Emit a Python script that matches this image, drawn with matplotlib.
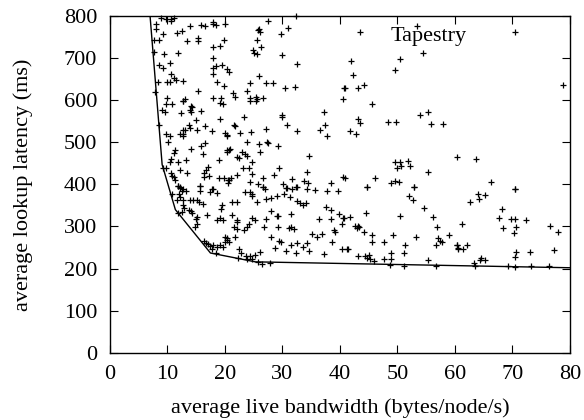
import matplotlib
matplotlib.use("Agg")
import matplotlib.pyplot as plt

# (bandwidth bytes/node/s, latency ms)
bw = [
    8.9, 9.8, 10.6, 11.2, 10.7, 8.0, 8.1, 14.0, 15.8, 16.6, 17.9, 18.5, 20.0, 18.0, 9.3, 11.6, 12.5,
    7.7, 8.6, 13.5, 15.4, 15.4, 19.8, 17.9, 19.1, 7.7, 9.5, 11.8, 18.0, 8.5, 9.2, 10.4, 17.9, 18.5,
    19.5, 20.4, 20.8, 10.7, 11.2, 17.9, 8.3, 10.0, 10.5, 11.5, 12.7, 18.7, 19.8, 7.9, 15.4, 10.0,
    13.1, 12.7, 17.9, 19.3,
    27.5, 32.3, 25.9, 26.1, 25.8, 30.9, 29.8, 25.6, 26.3, 24.9, 25.0, 25.6, 29.9, 32.5, 26.0, 24.3,
    27.2, 28.4, 30.5, 32.2, 23.9, 21.5, 21.7, 24.3, 25.4, 25.6, 26.6, 40.8, 40.6,
    43.5, 53.4, 50.5, 54.4, 42.0, 49.6, 42.3, 40.9, 43.2, 44.2, 70.4, 78.8,
    9.8, 10.9, 12.7, 14.1, 14.0, 14.3, 9.0, 9.6, 12.3, 14.1, 15.8, 19.2, 19.6, 19.1, 8.5, 14.9,
    13.7, 13.9, 12.8, 13.1, 12.2, 12.8, 12.7, 15.2, 16.5, 17.7, 20.0, 20.4, 9.8, 10.4, 10.2, 15.8,
    16.5, 14.2, 11.4, 11.1, 16.2, 20.7, 20.4, 10.4, 10.6, 11.8, 13.2, 18.9, 9.8, 9.3, 17.0, 16.8,
    10.7, 10.9, 11.2, 11.4, 12.2, 13.4, 16.3, 16.4, 17.3, 19.0, 19.8, 20.6, 11.9, 12.2, 12.7, 15.7,
    17.8,
    24.3, 25.4, 23.4, 29.9, 29.9, 37.3, 21.6, 21.7, 30.8, 37.4, 36.5, 37.8, 20.3, 22.6, 24.6, 27.1,
    32.5, 23.9, 25.9, 27.3, 27.5, 29.2, 20.3, 20.9, 22.9, 23.5, 26.1, 22.2, 22.5, 23.8, 24.7, 34.6,
    23.1, 24.2, 29.5, 24.7, 22.1, 21.0, 20.7, 20.6, 26.7, 28.6, 31.7, 34.3, 33.8, 34.4, 24.4, 25.8,
    26.7, 27.0, 30.1, 30.7, 32.4, 38.5, 40.6,
    45.5, 43.2, 43.5, 41.7, 42.8, 48.4, 49.7, 53.9, 55.4, 55.8, 57.9, 49.6, 50.4, 50.0, 50.7, 51.8,
    52.2, 60.3, 55.3, 40.9, 46.1, 44.7, 48.8, 49.5, 50.2, 52.9, 63.6, 66.2, 70.4,
    11.8, 12.2, 12.6, 13.3, 15.7, 15.6, 17.5, 17.9, 18.6, 10.8, 12.0, 12.2, 11.6, 12.8, 14.0, 14.5,
    15.1, 15.5, 16.2, 12.7, 12.9, 19.5, 19.4, 13.7, 14.2, 14.3, 11.9, 12.5, 16.9, 15.1, 14.9, 19.2,
    19.7, 18.7, 15.1, 14.8, 20.4, 20.1, 16.3, 16.8, 17.1, 17.5, 17.9, 18.7, 19.2, 19.7, 17.7, 18.5,
    23.5, 24.3, 24.7, 24.7, 26.7, 30.8, 31.7, 32.5, 34.2, 35.6, 37.7, 39.6, 28.1, 29.1, 30.2, 31.3,
    27.2, 25.6, 21.3, 22.1, 32.5, 33.1, 34.1, 33.6, 37.6, 38.5, 28.0, 29.1, 29.3, 31.5, 21.3, 22.1,
    22.1, 24.7, 25.2, 27.1, 36.3, 38.5, 39.9, 40.6, 23.9, 23.4, 21.6, 22.1, 21.8, 24.2, 26.8, 29.3,
    31.1, 31.5, 32.0, 20.1, 20.4, 20.7, 28.1, 29.5, 29.8, 35.1, 36.0, 36.9, 38.9, 39.1, 38.6, 31.5,
    32.5, 33.6, 34.3, 28.8, 30.7, 32.3, 34.6, 37.2, 40.3, 22.4, 22.8, 22.3, 23.6, 23.9, 24.4, 24.7,
    25.3, 26.1, 25.7, 26.4, 27.9,
    44.7, 52.9, 52.0, 52.7, 54.7, 50.4, 56.2, 56.8, 40.8, 41.8, 40.4, 42.7, 43.1, 43.3, 43.0, 44.6,
    44.2, 45.6, 45.6, 49.2, 47.7, 53.3, 57.0, 57.4, 57.8, 56.7, 58.9, 60.3, 60.5, 51.3, 51.1, 41.2,
    41.4, 43.1, 44.4, 45.1, 45.2, 44.8, 46.0, 47.7, 48.9, 48.8, 48.7, 51.1, 55.4, 56.7,
    70.4, 64.0, 64.2, 65.3, 62.6, 68.2, 67.6, 69.8, 70.4, 72.4, 61.3, 76.6, 78.0, 68.4, 70.6, 70.3,
    60.4, 60.5, 61.4, 62.1, 77.3, 64.6, 64.3, 65.2, 70.7, 70.5, 73.0, 63.3, 63.5, 69.2, 70.5, 73.3,
    76.4,
]
latency = [
    796, 793, 793, 794, 788, 780, 769, 775, 778, 777, 782, 778, 780, 786, 756, 759, 764,
    743, 743, 740, 748, 740, 743, 727, 728, 715, 709, 713, 699, 683, 677, 688, 677, 681,
    683, 675, 667, 661, 652, 661, 644, 644, 642, 648, 645, 642, 634, 620, 622, 606,
    603, 598, 604, 604,
    788, 799, 770, 762, 766, 772, 758, 743, 727, 719, 713, 709, 707, 685, 658, 640,
    640, 641, 628, 632, 622, 616, 608, 604, 608, 603, 606, 628, 603,
    761, 777, 698, 713, 693, 671, 660, 629, 628, 636, 761, 637,
    591, 590, 598, 587, 577, 584, 576, 573, 569, 571, 574, 593, 590, 555, 542, 553,
    541, 534, 530, 528, 519, 515, 520, 530, 539, 527, 522, 517, 520, 514, 500, 492,
    498, 484, 481, 474, 473, 482, 478, 452, 460, 454, 458, 457, 439, 438, 441, 435,
    428, 420, 417, 411, 433, 428, 428, 417, 420, 414, 414, 411, 397, 394, 389, 395,
    390,
    599, 599, 560, 565, 561, 572, 541, 539, 541, 541, 530, 514, 515, 523, 525, 531,
    527, 501, 496, 501, 498, 490, 481, 484, 476, 473, 476, 466, 462, 468, 454, 468,
    439, 438, 438, 425, 422, 416, 411, 403, 416, 422, 413, 430, 409, 403, 405, 401,
    394, 390, 401, 392, 394, 403, 417,
    591, 555, 546, 527, 520, 547, 547, 565, 572, 544, 544, 452, 452, 439, 444, 455,
    443, 465, 430, 416, 416, 394, 403, 409, 406, 394, 460, 405, 389,
    397, 391, 385, 385, 396, 385, 382, 388, 380, 377, 378, 370, 364, 363, 363, 363,
    363, 359, 353, 351, 344, 350, 342, 340, 337, 332, 332, 334, 328, 323, 317, 321,
    315, 315, 307, 298, 272, 264, 266, 260, 258, 253, 255, 252, 257, 252, 247, 236,
    382, 383, 377, 372, 393, 391, 388, 393, 390, 386, 385, 385, 367, 372, 377, 369,
    366, 358, 359, 359, 361, 355, 355, 350, 347, 340, 336, 326, 325, 329, 328, 315,
    310, 320, 315, 317, 317, 317, 329, 321, 298, 291, 298, 295, 275, 307, 298, 298,
    296, 299, 293, 274, 269, 263, 275, 266, 263, 282, 274, 282, 291, 288, 263, 255,
    261, 252, 261, 250, 242, 236, 242, 234, 247, 247, 236, 225, 231, 223, 231, 223,
    233, 239, 215, 212, 214,
    393, 394, 372, 363, 345, 325, 323, 299, 321, 323, 306, 302, 301, 299, 296, 332,
    287, 280, 264, 280, 264, 275, 272, 266, 263, 255, 279, 255, 247, 256, 237, 247,
    247, 230, 231, 233, 223, 225, 218, 223, 236, 222, 209, 206, 220, 207,
    388, 377, 366, 374, 358, 342, 321, 318, 317, 315, 306, 302, 288, 296, 298, 285,
    255, 249, 247, 255, 245, 226, 220, 221, 239, 228, 239, 214, 207, 206, 204, 207,
    207,
]

# lower envelope (best latency for a given bandwidth)
hull_bw = [7.0, 9.1, 11.4, 17.5, 25.3, 80.0]
hull_lat = [800, 447, 340, 237, 216, 202]

x_ticks = [0, 10, 20, 30, 40, 50, 60, 70, 80]
y_ticks = [0, 100, 200, 300, 400, 500, 600, 700, 800]

plt.rcParams["font.family"] = ["Liberation Serif", "DejaVu Serif"]
plt.rcParams["font.size"] = 16

fig = plt.figure(figsize=(5.84, 4.2), dpi=100)
ax = fig.add_axes([0.188, 0.160, 0.788, 0.802])

ax.plot(bw, latency, "+", color="black", markersize=5, markeredgewidth=0.9, clip_on=False)
ax.plot(hull_bw, hull_lat, "-", color="black", linewidth=1.0)

ax.set_xlim(0, 80)
ax.set_ylim(0, 800)
ax.set_xticks(x_ticks)
ax.set_yticks(y_ticks)
ax.tick_params(direction="in", top=True, right=True, length=6, width=0.8, labelsize=16, pad=9)
for s in ax.spines.values():
    s.set_linewidth(1.0)

ax.set_xlabel("average live bandwidth (bytes/node/s)", fontsize=16, labelpad=10)
ax.set_ylabel("average lookup latency (ms)", fontsize=16, labelpad=22)
ax.text(48.8, 752, "Tapestry", fontsize=16, va="center", ha="left")

fig.savefig("out.png", dpi=100)
